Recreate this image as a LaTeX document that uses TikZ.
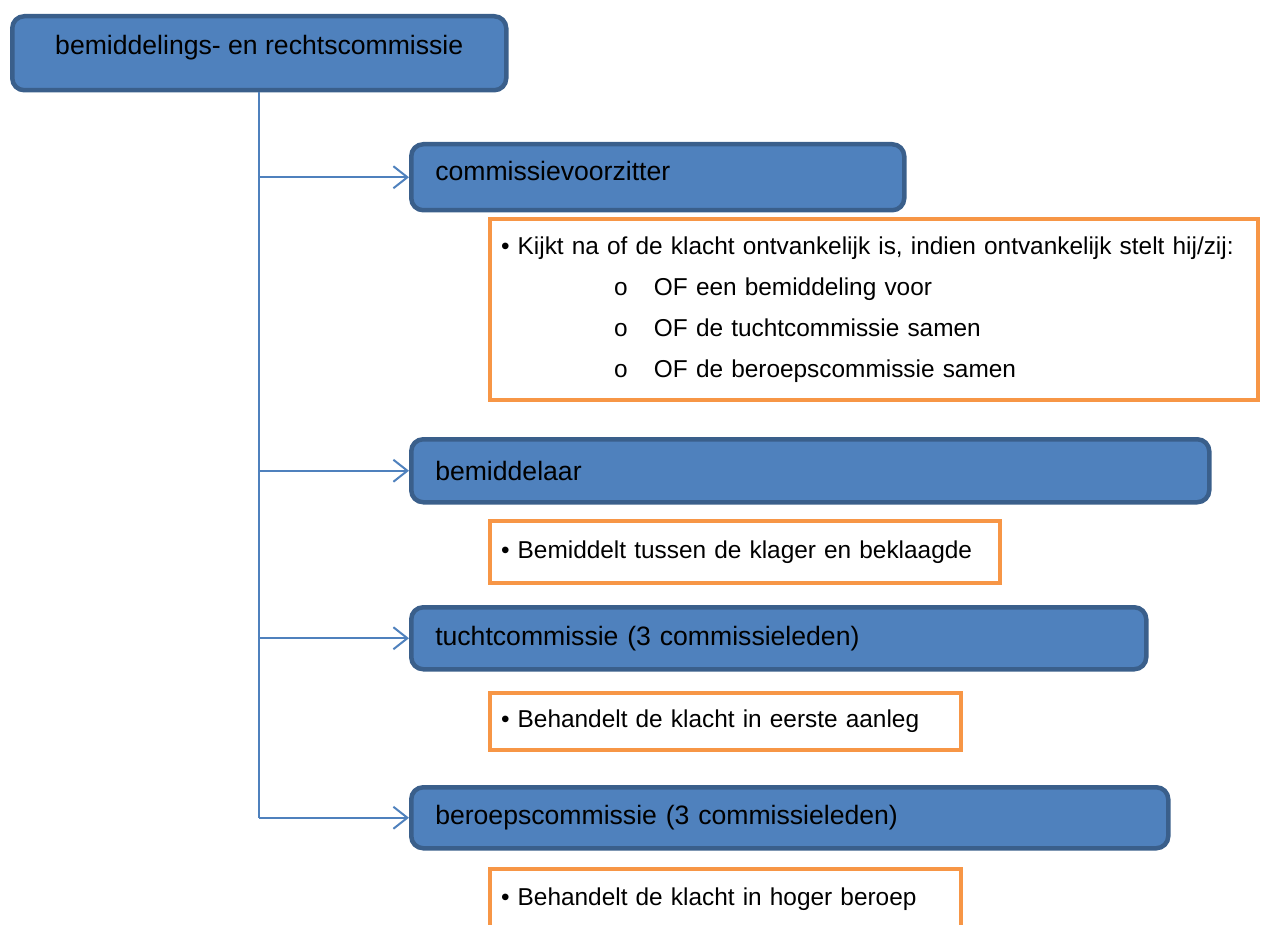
\documentclass[tikz,border=0pt]{standalone}
\usepackage{fontspec}
\setmainfont{Liberation Sans}
\usetikzlibrary{arrows.meta}
\definecolor{blauw}{HTML}{4F81BD}
\definecolor{donkerblauw}{HTML}{3A5F8B}
\definecolor{oranje}{HTML}{F79646}
\newcommand{\subpunt}[1]{\hspace*{113pt}\makebox[40pt][l]{o}#1}

\begin{document}
\begin{tikzpicture}[x=1pt, y=-1pt]
        \useasboundingbox (0,0) rectangle (1261,925);
        \clip (0,0) rectangle (1261,925);

        % Stijlen.
        \tikzstyle{blok} = [draw=donkerblauw, fill=blauw, line width=4.5pt, rounded corners=12pt,
            anchor=north west, inner xsep=24pt, align=left, font=\fontsize{26.6}{32}\selectfont]
        \tikzstyle{kader} = [draw=oranje, line width=4pt, anchor=north west, inner xsep=11pt,
            align=left, font=\fontsize{24.4}{41}\selectfont]
        \tikzstyle{pijl} = [-{Straight Barb[length=14pt, width=22pt]}, draw=blauw, line width=2pt]

        % Tekent de blokken.
        \node[blok, align=center, minimum width=494pt, minimum height=74pt, text depth=17pt] (rc) at (10,14)
            {bemiddelings- en rechtscommissie};
        \node[blok, text width=445pt, minimum height=66pt, text depth=12pt] (cv) at (409,142) {commissievoorzitter};
        \node[blok, text width=750pt, minimum height=63pt] (bem) at (409,437) {bemiddelaar};
        \node[blok, text width=687pt, minimum height=62pt] (tc)  at (409,605) {tuchtcommissie (3 commissieleden)};
        \node[blok, text width=709pt, minimum height=61pt] (bc)  at (409,785) {beroepscommissie (3 commissieleden)};

        % Tekent de kaders.
        \node[kader, text width=746pt, minimum height=181pt] (kcv) at (488,217) {%
            \textbullet\ Kijkt na of de klacht ontvankelijk is, indien ontvankelijk stelt hij/zij:\\
            \subpunt{OF een bemiddeling voor}\\
            \subpunt{OF de tuchtcommissie samen}\\
            \subpunt{OF de beroepscommissie samen}};
        \node[kader, text width=488pt, minimum height=62pt] (kbem) at (488,519)
            {\textbullet\ Bemiddelt tussen de klager en beklaagde};
        \node[kader, text width=449pt, minimum height=57pt] (ktc) at (488,691)
            {\textbullet\ Behandelt de klacht in eerste aanleg};
        \node[kader, text width=449pt, minimum height=61pt] (kbc) at (488,867)
            {\textbullet\ Behandelt de klacht in hoger beroep};

        % Tekent de lijnen.
        \draw[blauw, line width=2pt] (rc.south) -- (rc.south |- bc.west);
        \foreach \doel in {cv, bem, tc, bc}
            \draw[pijl] (rc.south |- \doel.west) -- (\doel.west);
    \end{tikzpicture}
\end{document}
